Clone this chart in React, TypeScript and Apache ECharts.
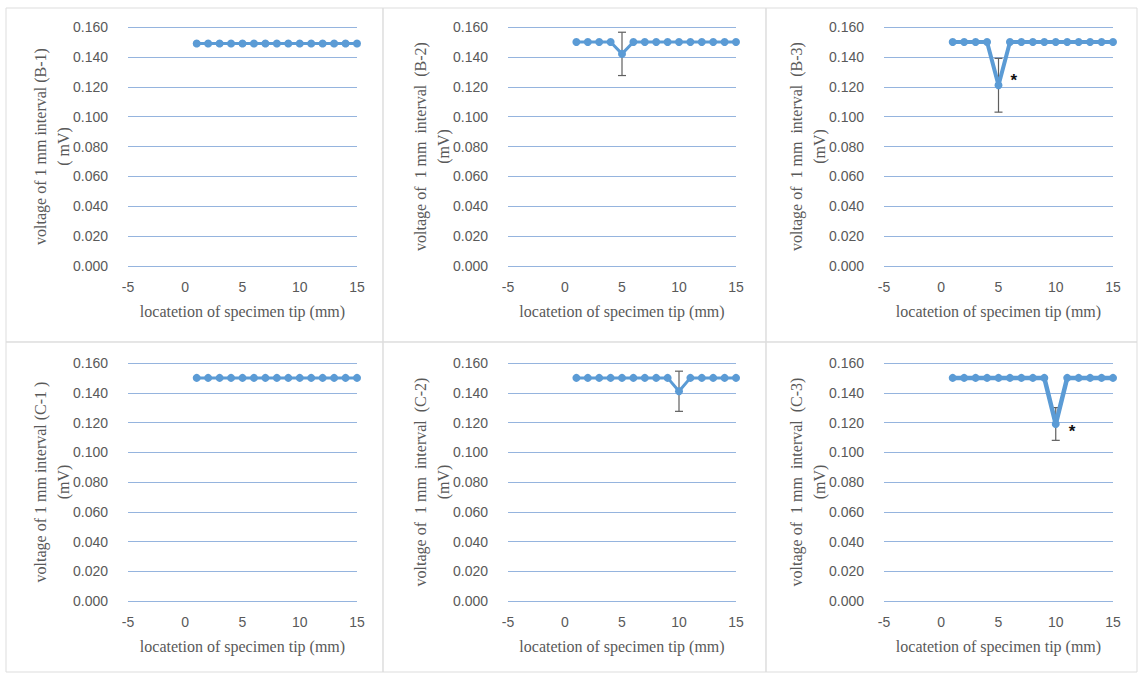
import React, { useEffect, useRef } from "react";
import * as echarts from "echarts";

// Specimen tip locations (mm)
const LOCATIONS = [1, 2, 3, 4, 5, 6, 7, 8, 9, 10, 11, 12, 13, 14, 15];

// Voltage of each 1 mm interval (mV)
const VOLTAGE_B1 = [0.149, 0.149, 0.149, 0.149, 0.149, 0.149, 0.149, 0.149, 0.149, 0.149, 0.149, 0.149, 0.149, 0.149, 0.149];
const VOLTAGE_B2 = [0.150, 0.150, 0.150, 0.150, 0.142, 0.150, 0.150, 0.150, 0.150, 0.150, 0.150, 0.150, 0.150, 0.150, 0.150];
const VOLTAGE_B3 = [0.150, 0.150, 0.150, 0.150, 0.121, 0.150, 0.150, 0.150, 0.150, 0.150, 0.150, 0.150, 0.150, 0.150, 0.150];
const VOLTAGE_C1 = [0.150, 0.150, 0.150, 0.150, 0.150, 0.150, 0.150, 0.150, 0.150, 0.150, 0.150, 0.150, 0.150, 0.150, 0.150];
const VOLTAGE_C2 = [0.150, 0.150, 0.150, 0.150, 0.150, 0.150, 0.150, 0.150, 0.150, 0.141, 0.150, 0.150, 0.150, 0.150, 0.150];
const VOLTAGE_C3 = [0.150, 0.150, 0.150, 0.150, 0.150, 0.150, 0.150, 0.150, 0.150, 0.119, 0.150, 0.150, 0.150, 0.150, 0.150];

// Error bar half-lengths (mV); 0 = no bar drawn
const ERROR_B1 = [0, 0, 0, 0, 0, 0, 0, 0, 0, 0, 0, 0, 0, 0, 0];
const ERROR_B2 = [0, 0, 0, 0, 0.0145, 0, 0, 0, 0, 0, 0, 0, 0, 0, 0];
const ERROR_B3 = [0, 0, 0, 0, 0.018, 0, 0, 0, 0, 0, 0, 0, 0, 0, 0];
const ERROR_C1 = [0, 0, 0, 0, 0, 0, 0, 0, 0, 0, 0, 0, 0, 0, 0];
const ERROR_C2 = [0, 0, 0, 0, 0, 0, 0, 0, 0, 0.0135, 0, 0, 0, 0, 0];
const ERROR_C3 = [0, 0, 0, 0, 0, 0, 0, 0, 0, 0.011, 0, 0, 0, 0, 0];

// Index of a significantly lower point (marked with *), -1 = none
const SIGNIFICANT_B = [-1, -1, 4];
const SIGNIFICANT_C = [-1, -1, 9];

const Y_TITLES = [
  "voltage of 1 mm interval (B-1)",
  "voltage of  1 mm  interval  (B-2)",
  "voltage of  1 mm  interval  (B-3)",
  "voltage of 1 mm interval (C-1 )",
  "voltage of  1 mm  interval  (C-2)",
  "voltage of  1 mm  interval  (C-3)",
];
const Y_UNITS = ["( mV)", "(mV)", "(mV)", "(mV)", "(mV)", "(mV)"];
const X_TITLE = "locatetion of specimen tip (mm)";

const X_MIN = -5;
const X_MAX = 15;
const X_STEP = 5;
const Y_MIN = 0;
const Y_MAX = 0.16;
const Y_STEP = 0.02;

const VALUES = [VOLTAGE_B1, VOLTAGE_B2, VOLTAGE_B3, VOLTAGE_C1, VOLTAGE_C2, VOLTAGE_C3];
const ERRORS = [ERROR_B1, ERROR_B2, ERROR_B3, ERROR_C1, ERROR_C2, ERROR_C3];
const SIGNIFICANT = [...SIGNIFICANT_B, ...SIGNIFICANT_C];

// Panel geometry
const COLS = [
  { left: 128, width: 229 },
  { left: 508, width: 228 },
  { left: 884, width: 229 },
];
const ROWS = [
  { top: 27, height: 239 },
  { top: 363, height: 238 },
];
const FRAME_X = [6, 383, 766, 1137];
const FRAME_Y = [8, 342, 672];
const LINE_WIDTHS = [3, 3, 4, 3, 3, 4.5];
const STAR_OFFSETS: [number, number][] = [
  [0, 0], [0, 0], [3, -5], [0, 0], [0, 0], [4, 8],
];

const BLUE = "#5B9BD5";
const GRID_BLUE = "#95B4DE";
const TEXT_GRAY = "#595959";
const SERIF = "'Liberation Serif', 'DejaVu Serif', serif";
const SANS = "'Liberation Sans', Arial, sans-serif";

function buildOption() {
  const grids: any[] = [];
  const xAxes: any[] = [];
  const yAxes: any[] = [];
  const series: any[] = [];
  const graphics: any[] = [];

  for (let p = 0; p < 6; p++) {
    const col = COLS[p % 3];
    const row = ROWS[Math.floor(p / 3)];
    grids.push({ left: col.left, top: row.top, width: col.width, height: row.height, containLabel: false });

    xAxes.push({
      type: "value",
      gridIndex: p,
      min: X_MIN,
      max: X_MAX,
      interval: X_STEP,
      axisLine: { show: false },
      axisTick: { show: false },
      splitLine: { show: false },
      axisLabel: { color: TEXT_GRAY, fontSize: 14, fontFamily: SANS, margin: 14 },
      name: X_TITLE,
      nameLocation: "middle",
      nameGap: 37,
      nameTextStyle: { color: TEXT_GRAY, fontSize: 16, fontFamily: SERIF },
    });

    yAxes.push({
      type: "value",
      gridIndex: p,
      min: Y_MIN,
      max: Y_MAX,
      interval: Y_STEP,
      axisLine: { show: false },
      axisTick: { show: false },
      splitLine: { show: true, lineStyle: { color: GRID_BLUE, width: 1 } },
      axisLabel: {
        color: TEXT_GRAY,
        fontSize: 14,
        fontFamily: SANS,
        margin: 20,
        formatter: (v: number) => v.toFixed(3),
      },
    });

    const vals = VALUES[p];
    const errs = ERRORS[p];
    const star = SIGNIFICANT[p];

    series.push({
      type: "custom",
      xAxisIndex: p,
      yAxisIndex: p,
      z: 2,
      clip: false,
      encode: { x: 0, y: 1 },
      data: LOCATIONS.map((x, j) => [x, vals[j], errs[j]]).filter((d) => d[2] > 0),
      renderItem: (_params: any, api: any) => {
        const x = api.value(0);
        const y = api.value(1);
        const e = api.value(2);
        const top = api.coord([x, y + e]);
        const bot = api.coord([x, y - e]);
        const cap = 4;
        const style = { stroke: "#5f5f5f", lineWidth: 1.2 };
        return {
          type: "group",
          children: [
            { type: "line", shape: { x1: top[0], y1: top[1], x2: bot[0], y2: bot[1] }, style },
            { type: "line", shape: { x1: top[0] - cap, y1: top[1], x2: top[0] + cap, y2: top[1] }, style },
            { type: "line", shape: { x1: bot[0] - cap, y1: bot[1], x2: bot[0] + cap, y2: bot[1] }, style },
          ],
        };
      },
    });

    series.push({
      type: "line",
      xAxisIndex: p,
      yAxisIndex: p,
      z: 3,
      symbol: "circle",
      symbolSize: 8,
      showSymbol: true,
      itemStyle: { color: BLUE },
      lineStyle: { color: BLUE, width: LINE_WIDTHS[p] },
      data: LOCATIONS.map((x, j) =>
        j === star
          ? {
              value: [x, vals[j]],
              label: {
                show: true,
                formatter: "*",
                position: "right",
                offset: STAR_OFFSETS[p],
                color: "#111",
                fontSize: 17,
                fontWeight: "bold",
                fontFamily: SANS,
              },
            }
          : [x, vals[j]]
      ),
    });

    // Two-line rotated y-axis title
    graphics.push({
      type: "text",
      x: col.left - 76,
      y: row.top + row.height / 2,
      rotation: Math.PI / 2,
      style: {
        text: Y_TITLES[p] + "\n" + Y_UNITS[p],
        fill: TEXT_GRAY,
        fontSize: 16,
        fontFamily: SERIF,
        align: "center",
        verticalAlign: "middle",
        lineHeight: 23,
      },
    });
  }

  // Panel frames
  for (let r = 0; r < 2; r++) {
    for (let c = 0; c < 3; c++) {
      graphics.push({
        type: "rect",
        shape: {
          x: FRAME_X[c],
          y: FRAME_Y[r],
          width: FRAME_X[c + 1] - FRAME_X[c],
          height: FRAME_Y[r + 1] - FRAME_Y[r],
        },
        style: { fill: "none", stroke: "#DDDDDD", lineWidth: 1 },
        silent: true,
      });
    }
  }

  return {
    animation: false,
    backgroundColor: "#ffffff",
    grid: grids,
    xAxis: xAxes,
    yAxis: yAxes,
    series,
    graphic: graphics,
  };
}

export default function App() {
  const ref = useRef<HTMLDivElement>(null);
  useEffect(() => {
    const chart = echarts.init(ref.current!, null, { renderer: "svg" });
    chart.setOption(buildOption() as any);
    return () => chart.dispose();
  }, []);
  return (
    <div
      ref={ref}
      style={{ position: "fixed", left: 0, top: 0, width: 1139, height: 675, background: "#fff" }}
    />
  );
}
